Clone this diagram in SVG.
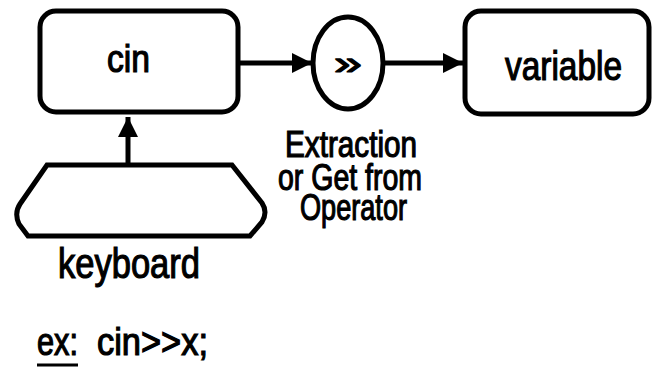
<svg xmlns="http://www.w3.org/2000/svg" width="652" height="369" viewBox="0 0 652 369">
<style>
.box{fill:#fff;stroke:#000;stroke-width:5}
.ln{stroke:#000;stroke-width:5;fill:none}
.t{font-family:"Liberation Sans",Arial,sans-serif;fill:#000;stroke:#000;stroke-width:1.2}
</style>
<defs>
<marker id="ah" viewBox="0 0 10 10" refX="10" refY="5" markerWidth="4" markerHeight="4.4" markerUnits="strokeWidth" orient="auto">
<path d="M0,0 L10,5 L0,10 z" fill="#000"/>
</marker>
</defs>
<rect width="652" height="369" fill="#fff"/>
<g id="connectors">
<line class="ln" x1="238" y1="63" x2="312" y2="63" marker-end="url(#ah)"/>
<line class="ln" x1="383" y1="63" x2="463" y2="63" marker-end="url(#ah)"/>
<line class="ln" x1="128" y1="165" x2="128" y2="117" marker-end="url(#ah)"/>
</g>
<g id="cin">
<rect class="box" x="40" y="11" width="198" height="101" rx="16"/>
<text class="t" x="107" y="72" font-size="38" textLength="43" lengthAdjust="spacingAndGlyphs">cin</text>
</g>
<g id="op">
<ellipse class="box" cx="348" cy="63" rx="35" ry="46"/>
<text class="t" x="334" y="74" font-size="34" textLength="28" lengthAdjust="spacingAndGlyphs">»</text>
</g>
<g id="variable">
<rect class="box" x="465" y="11" width="184" height="103" rx="16"/>
<text class="t" x="505" y="80" font-size="40" textLength="117" lengthAdjust="spacingAndGlyphs">variable</text>
</g>
<g id="label">
<text class="t" x="285" y="157" font-size="36" textLength="132" lengthAdjust="spacingAndGlyphs">Extraction</text>
<text class="t" x="278" y="190" font-size="36" textLength="144" lengthAdjust="spacingAndGlyphs">or Get from</text>
<text class="t" x="300" y="220" font-size="36" textLength="107" lengthAdjust="spacingAndGlyphs">Operator</text>
</g>
<g id="keyboard">
<path class="box" d="M47,165 L232,165 L262,203 Q268,212 262,222 L250,236 L28,236 L19,224 Q14,213 20,204 Z"/>
<text class="t" x="58" y="278" font-size="42" textLength="142" lengthAdjust="spacingAndGlyphs">keyboard</text>
</g>
<g id="example">
<text class="t" x="37" y="355" font-size="38" textLength="41" lengthAdjust="spacingAndGlyphs">ex:</text>
<line x1="37" y1="365" x2="78" y2="365" stroke="#000" stroke-width="3"/>
<text class="t" x="97" y="355" font-size="38" textLength="111" lengthAdjust="spacingAndGlyphs">cin&gt;&gt;x;</text>
</g>
</svg>
